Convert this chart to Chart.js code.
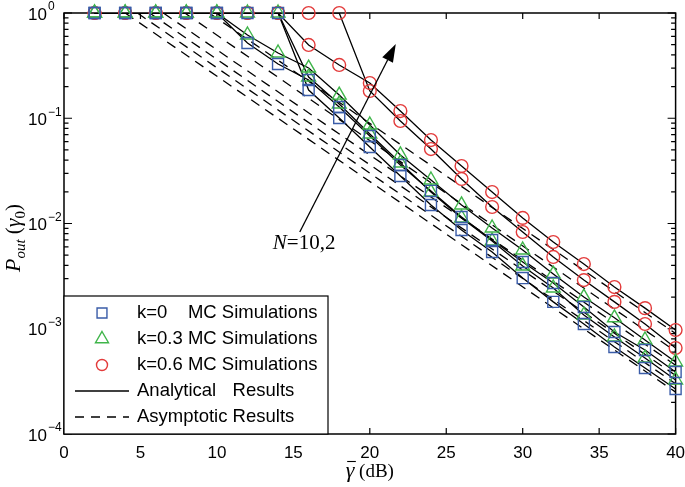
<!DOCTYPE html>
<html>
<head>
<meta charset="utf-8">
<script src="https://cdn.jsdelivr.net/npm/chart.js@4.4.1/dist/chart.umd.min.js"></script>
<style>
  html, body { margin: 0; padding: 0; background: #fff; }
  #wrap { width: 685px; height: 487px; }
</style>
</head>
<body>
<div id="wrap"><canvas id="chart" width="685" height="487"></canvas></div>
<script>
// average SNR grid (dB)
const snrDb = [2, 4, 6, 8, 10, 12, 14, 16, 18, 20, 22, 24, 26, 28, 30, 32, 34, 36, 38, 40];
const xTicks = [0, 5, 10, 15, 20, 25, 30, 35, 40];
const yDecades = [0, -1, -2, -3, -4];

// outage probability (N=2 starts dropping earlier, N=10 later)
const k0N2 = [1, 1, 1, 1, 1, 0.519, 0.328, 0.231, 0.128, 0.0678, 0.0360, 0.0204, 0.01153, 0.00697, 0.00431, 0.00272, 0.00161, 0.000931, 0.000628, 0.000388];
const k0N10 = [1, 1, 1, 1, 1, 1, 1, 0.1855, 0.1005, 0.0533, 0.0283, 0.0150, 0.00867, 0.00536, 0.00303, 0.00180, 0.00111, 0.000671, 0.000424, 0.000268];
const k03N2 = [1, 1, 1, 1, 1, 0.618, 0.417, 0.300, 0.166, 0.0863, 0.0448, 0.0259, 0.0150, 0.00906, 0.00560, 0.00331, 0.00200, 0.00127, 0.000782, 0.000483];
const k03N10 = [1, 1, 1, 1, 1, 1, 1, 0.2466, 0.1366, 0.0709, 0.0376, 0.0199, 0.01128, 0.00682, 0.00395, 0.00244, 0.00135, 0.000835, 0.000527, 0.000326];
const k06N2 = [1, 1, 1, 1, 1, 1, 1, 0.497, 0.321, 0.216, 0.117, 0.0621, 0.0352, 0.0199, 0.0113, 0.00667, 0.00412, 0.00249, 0.00157, 0.000973];
const k06N10 = [1, 1, 1, 1, 1, 1, 1, 1, 1, 0.1815, 0.0942, 0.0510, 0.0265, 0.01435, 0.0083, 0.00481, 0.00290, 0.00180, 0.00111, 0.000656];

// asymptotic lines: SNR where they leave P=1, and value at 40 dB
// order: k0N2, k0N10, k03N2, k03N10, k06N2, k06N10
const asymStartDb = [5.6, 4.0, 6.5, 4.8, 9.5, 7.9];
const asymEndVal = [3.6e-4, 2.5e-4, 4.5e-4, 3.0e-4, 9.0e-4, 6.1e-4];
const asymEndDb = 40;

// arrow + note "N=10,2"
const arrowFrom = { x: 15.42, y: 0.0083 };
const arrowTo = { x: 21.7, y: 0.5076 };
const noteAt = { x: 13.66, y: 0.00573 };

const BLUE = '#3a5ca8';
const GREEN = '#3fb54a';
const RED = '#e33b3b';
const SANS = '"Liberation Sans", Arial, sans-serif';
const SERIF = '"Liberation Serif", "Times New Roman", serif';

const simSeries = [
  { vals: k0N2, style: 'rect', color: BLUE, r: 7.8 },
  { vals: k0N10, style: 'rect', color: BLUE, r: 7.8 },
  { vals: k03N2, style: 'triangle', color: GREEN, r: 8 },
  { vals: k03N10, style: 'triangle', color: GREEN, r: 8 },
  { vals: k06N2, style: 'circle', color: RED, r: 6.4 },
  { vals: k06N10, style: 'circle', color: RED, r: 6.4 }
];

const toPts = vals => snrDb.map((x, i) => ({ x: x, y: vals[i] }));

const datasets = [];
// MC markers first so they sit on top
simSeries.forEach(s => {
  datasets.push({
    data: toPts(s.vals),
    showLine: false,
    pointStyle: s.style,
    pointRadius: s.r,
    pointBorderColor: s.color,
    pointBackgroundColor: 'rgba(0,0,0,0)',
    pointBorderWidth: 1.4,
    clip: false
  });
});
// analytical (solid)
simSeries.forEach(s => {
  datasets.push({
    data: toPts(s.vals),
    showLine: true,
    borderColor: '#000',
    borderWidth: 1.3,
    pointRadius: 0
  });
});
// asymptotic (dashed)
asymStartDb.forEach((x0, i) => {
  datasets.push({
    data: [{ x: x0, y: 1 }, { x: asymEndDb, y: asymEndVal[i] }],
    showLine: true,
    borderColor: '#000',
    borderWidth: 1.3,
    borderDash: [10, 7],
    pointRadius: 0
  });
});

// draws a run of text pieces with different fonts, starting at x (left), baseline y
function drawRun(ctx, parts, x, y) {
  let cx = x;
  parts.forEach(p => {
    ctx.font = p.f;
    ctx.fillText(p.t, cx, y + (p.dy || 0));
    cx += ctx.measureText(p.t).width;
  });
  return cx;
}
function runWidth(ctx, parts) {
  let w = 0;
  parts.forEach(p => { ctx.font = p.f; w += ctx.measureText(p.t).width; });
  return w;
}

const matlabLook = {
  id: 'matlabLook',
  beforeDatasetsDraw(chart) {
    const { ctx, chartArea: a, scales: { x, y } } = chart;
    ctx.save();
    ctx.strokeStyle = '#000';
    ctx.lineWidth = 1.2;
    ctx.beginPath();
    xTicks.forEach(v => {
      const px = x.getPixelForValue(v);
      ctx.moveTo(px, a.bottom); ctx.lineTo(px, a.bottom - 6);
      ctx.moveTo(px, a.top); ctx.lineTo(px, a.top + 6);
    });
    yDecades.forEach(d => {
      const py = y.getPixelForValue(Math.pow(10, d));
      ctx.moveTo(a.left, py); ctx.lineTo(a.left + 8, py);
      ctx.moveTo(a.right, py); ctx.lineTo(a.right - 8, py);
      if (d < 0) {
        for (let m = 2; m <= 9; m++) {
          const pm = y.getPixelForValue(m * Math.pow(10, d));
          ctx.moveTo(a.left, pm); ctx.lineTo(a.left + 4.5, pm);
          ctx.moveTo(a.right, pm); ctx.lineTo(a.right - 4.5, pm);
        }
      }
    });
    ctx.stroke();
    ctx.lineWidth = 1.5;
    ctx.strokeRect(a.left, a.top, a.right - a.left, a.bottom - a.top);
    ctx.restore();
  },
  afterDraw(chart) {
    const { ctx, chartArea: a, scales: { x, y } } = chart;
    ctx.save();
    ctx.fillStyle = '#000';
    ctx.strokeStyle = '#000';

    // x tick labels
    ctx.font = '17px ' + SANS;
    ctx.textAlign = 'center';
    ctx.textBaseline = 'middle';
    xTicks.forEach(v => ctx.fillText(String(v), x.getPixelForValue(v), a.bottom + 19));

    // y tick labels 10^d
    yDecades.forEach(d => {
      const py = y.getPixelForValue(Math.pow(10, d));
      ctx.textAlign = 'right';
      ctx.font = '17px ' + SANS;
      ctx.fillText('10', a.left - 17, py + 2);
      ctx.textAlign = 'left';
      ctx.font = '12px ' + SANS;
      ctx.fillText(d === 0 ? '0' : '\u2212' + Math.abs(d), a.left - 16, py - 6);
    });

    // x title: gamma-bar (dB)
    ctx.textAlign = 'left';
    ctx.textBaseline = 'alphabetic';
    const xParts = [
      { t: '\u03b3', f: 'italic 22px ' + SERIF },
      { t: ' (dB)', f: '19px ' + SERIF }
    ];
    const xw = runWidth(ctx, xParts);
    const x0 = (a.left + a.right) / 2 - xw / 2;
    const xb = 477;
    drawRun(ctx, xParts, x0, xb);
    ctx.font = 'italic 22px ' + SERIF;
    const gw = ctx.measureText('\u03b3').width;
    ctx.lineWidth = 1.1;
    ctx.beginPath();
    ctx.moveTo(x0 + 1.5, xb - 15.5); ctx.lineTo(x0 + gw + 1.5, xb - 15.5);
    ctx.stroke();

    // y title: P_out (gamma_0)
    const yParts = [
      { t: 'P', f: 'italic 22px ' + SERIF },
      { t: 'out', f: 'italic 15px ' + SERIF, dy: 5 },
      { t: ' (', f: '21px ' + SERIF },
      { t: '\u03b3', f: 'italic 22px ' + SERIF },
      { t: '0', f: '15px ' + SERIF, dy: 5 },
      { t: ')', f: '21px ' + SERIF }
    ];
    ctx.save();
    ctx.translate(20, 238);
    ctx.rotate(-Math.PI / 2);
    drawRun(ctx, yParts, -runWidth(ctx, yParts) / 2, 0);
    ctx.restore();

    // arrow
    const ax0 = x.getPixelForValue(arrowFrom.x), ay0 = y.getPixelForValue(arrowFrom.y);
    const ax1 = x.getPixelForValue(arrowTo.x), ay1 = y.getPixelForValue(arrowTo.y);
    const ang = Math.atan2(ay1 - ay0, ax1 - ax0);
    const hl = 18, hw = 6;
    ctx.lineWidth = 1.3;
    ctx.beginPath();
    ctx.moveTo(ax0, ay0);
    ctx.lineTo(ax1 - hl * Math.cos(ang), ay1 - hl * Math.sin(ang));
    ctx.stroke();
    ctx.beginPath();
    ctx.moveTo(ax1, ay1);
    ctx.lineTo(ax1 - hl * Math.cos(ang) + hw * Math.sin(ang), ay1 - hl * Math.sin(ang) - hw * Math.cos(ang));
    ctx.lineTo(ax1 - hl * Math.cos(ang) - hw * Math.sin(ang), ay1 - hl * Math.sin(ang) + hw * Math.cos(ang));
    ctx.closePath();
    ctx.fill();

    // note N=10,2
    drawRun(ctx, [
      { t: 'N', f: 'italic 21px ' + SERIF },
      { t: '=10,2', f: '21px ' + SERIF }
    ], x.getPixelForValue(noteAt.x), y.getPixelForValue(noteAt.y));

    // legend box, lower left inside the axes
    const lx = a.left, ly = 296, lw = 264, lh = a.bottom - 296;
    ctx.fillStyle = '#fff';
    ctx.fillRect(lx, ly, lw, lh);
    ctx.lineWidth = 1.2;
    ctx.strokeRect(lx, ly, lw, lh);
    ctx.fillStyle = '#000';

    const rowY = i => ly + 17 + i * 26;
    const mx = lx + 38, tx = lx + 73;
    const legMarks = [['rect', BLUE, 7], ['triangle', GREEN, 7.5], ['circle', RED, 5.5]];
    legMarks.forEach((m, i) => {
      ctx.save();
      ctx.strokeStyle = m[1];
      ctx.fillStyle = 'rgba(0,0,0,0)';
      ctx.lineWidth = 1.4;
      Chart.helpers.drawPoint(ctx, { pointStyle: m[0], radius: m[2], borderWidth: 1.4, rotation: 0 }, mx, rowY(i));
      ctx.restore();
    });
    ctx.font = '18.5px ' + SANS;
    ctx.textBaseline = 'middle';
    ctx.textAlign = 'left';
    const mcX = tx + ctx.measureText('k=0.3 ').width;
    ctx.fillText('k=0', tx, rowY(0));
    ctx.fillText('MC Simulations', mcX, rowY(0));
    ctx.fillText('k=0.3 MC Simulations', tx, rowY(1));
    ctx.fillText('k=0.6 MC Simulations', tx, rowY(2));
    const asymW = ctx.measureText('Asymptotic Results').width;
    ctx.fillText('Analytical', tx, rowY(3));
    ctx.textAlign = 'right';
    ctx.fillText('Results', tx + asymW, rowY(3));
    ctx.textAlign = 'left';
    ctx.fillText('Asymptotic Results', tx, rowY(4));

    ctx.lineWidth = 1.3;
    ctx.beginPath();
    ctx.moveTo(lx + 11, rowY(3)); ctx.lineTo(lx + 65, rowY(3));
    ctx.stroke();
    ctx.setLineDash([9, 7]);
    ctx.beginPath();
    ctx.moveTo(lx + 11, rowY(4)); ctx.lineTo(lx + 65, rowY(4));
    ctx.stroke();
    ctx.setLineDash([]);

    ctx.restore();
  }
};

new Chart(document.getElementById('chart').getContext('2d'), {
  type: 'scatter',
  data: { datasets: datasets },
  options: {
    responsive: false,
    animation: false,
    devicePixelRatio: 1,
    layout: { padding: { left: 64, top: 13, right: 9, bottom: 53 } },
    plugins: {
      legend: { display: false },
      tooltip: { enabled: false }
    },
    scales: {
      x: { type: 'linear', min: 0, max: 40, display: false },
      y: { type: 'logarithmic', min: 1e-4, max: 1, display: false }
    }
  },
  plugins: [matlabLook]
});
</script>
</body>
</html>
